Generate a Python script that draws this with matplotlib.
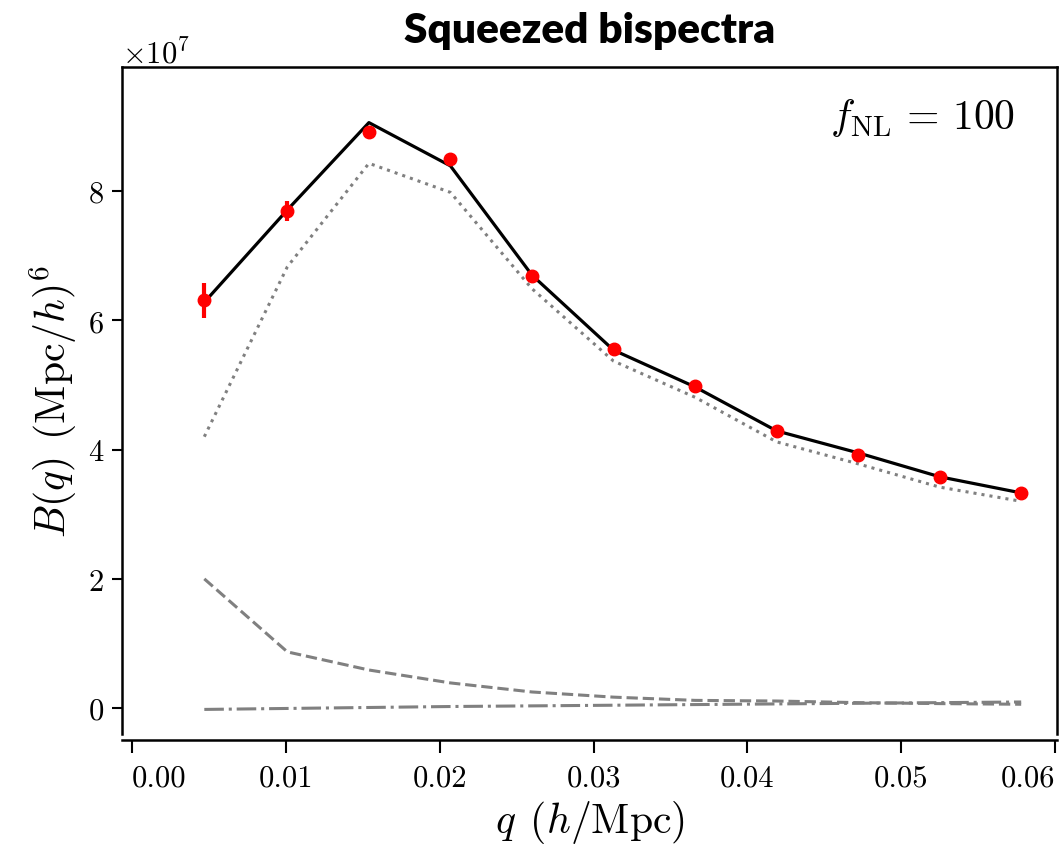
import numpy as np
import matplotlib
matplotlib.use("Agg")
import matplotlib.pyplot as plt

plt.rcParams['font.family'] = 'serif'
plt.rcParams['font.serif'] = ['cmr10']
plt.rcParams['mathtext.fontset'] = 'cm'
plt.rcParams['axes.formatter.use_mathtext'] = True

# wavenumber bins (h/Mpc)
q = [0.0047, 0.0101, 0.0154, 0.0207, 0.0260, 0.0313,
     0.0366, 0.0419, 0.0472, 0.0525, 0.0578]

# measured bispectrum (units of 1e7) with errors
B_meas = [6.31, 7.69, 8.91, 8.49, 6.69, 5.56, 4.98, 4.29, 3.92, 3.58, 3.33]
B_err = [0.27, 0.15, 0.06, 0.05, 0.04, 0.03, 0.03, 0.03, 0.02, 0.02, 0.02]

# model components (units of 1e7)
B_total = [6.28, 7.71, 9.06, 8.39, 6.70, 5.54, 4.97, 4.29, 3.95, 3.58, 3.33]
B_dotted = [4.20, 6.83, 8.43, 7.98, 6.49, 5.37, 4.81, 4.12, 3.78, 3.42, 3.20]
B_dashed = [2.00, 0.87, 0.59, 0.39, 0.25, 0.17, 0.12, 0.11, 0.085, 0.07, 0.06]
B_dashdot = [-0.02, -0.005, 0.01, 0.025, 0.035, 0.045, 0.055, 0.065, 0.075, 0.085, 0.095]

xticks = [0.00, 0.01, 0.02, 0.03, 0.04, 0.05, 0.06]
xticklabels = ['0.00', '0.01', '0.02', '0.03', '0.04', '0.05', '0.06']

scale = 1e7
fig = plt.figure(figsize=(10.6, 8.45), dpi=100)
ax = fig.add_axes([0.1151, 0.1302, 0.8821, 0.7893])

ax.plot(q, np.array(B_total) * scale, color='k', lw=2.3, zorder=3)
ax.plot(q, np.array(B_dotted) * scale, color='gray', lw=2.2, ls=':', zorder=2)
ax.plot(q, np.array(B_dashed) * scale, color='gray', lw=2.2, ls='--', zorder=2)
ax.plot(q, np.array(B_dashdot) * scale, color='gray', lw=2.2, ls='-.', zorder=2)
ax.errorbar(q, np.array(B_meas) * scale, yerr=np.array(B_err) * scale, fmt='o',
            color='red', ms=9, elinewidth=3, capsize=0, zorder=4)

ax.set_xlim(-0.00065, 0.06013)
ax.set_ylim(-0.40e7, 9.92e7)
ax.set_xticks(xticks)
ax.set_xticklabels(xticklabels)
ax.set_yticks([0, 2e7, 4e7, 6e7, 8e7])

for s in ax.spines.values():
    s.set_linewidth(1.8)
ax.spines['bottom'].set_position(('outward', 4))
ax.tick_params(axis='both', labelsize=22, width=1.5)
ax.tick_params(axis='x', length=9, pad=9)
ax.tick_params(axis='y', length=7, pad=6)
labs = ax.get_xticklabels()
labs[0].set_ha('left')
labs[-1].set_ha('right')
ax.yaxis.get_offset_text().set_fontsize(22)

ax.set_xlabel(r'$q\;\,(h/\mathrm{Mpc})$', fontsize=30, labelpad=4)
ax.set_ylabel(r'$B(q)\;\,(\mathrm{Mpc}/h)^6$', fontsize=30, labelpad=6)
ax.text(0.955, 0.925, r'$f_{\mathrm{NL}}\,=\,100$', transform=ax.transAxes,
        ha='right', va='center', fontsize=30)

fig.text(0.556, 0.9635, 'Squeezed bispectra', ha='center', va='center',
         fontsize=30.5, fontweight='heavy', family=['Lato', 'DejaVu Sans'])

fig.savefig('out.png', dpi=100)
